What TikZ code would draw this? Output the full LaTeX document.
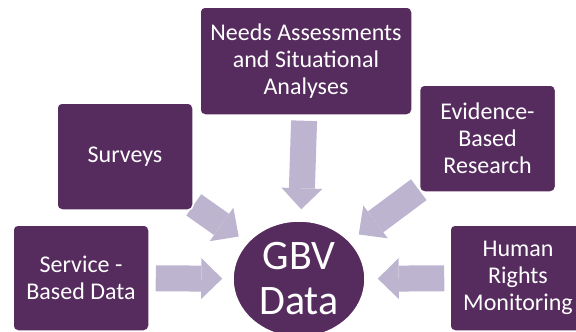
\documentclass[tikz,border=0pt]{standalone}
\usepackage{fontspec}
\setmainfont{Carlito}
\usetikzlibrary{arrows.meta,shapes.geometric,backgrounds}

\definecolor{gbvpurple}{RGB}{86,44,94}
\definecolor{gbvlilac}{RGB}{189,181,207}

\tikzset{
  source/.style={draw=white, line width=1.5pt, fill=gbvpurple, rounded corners=5pt,
    text=white, align=center, inner sep=0pt,
    font=\fontsize{24}{27}\selectfont,
    minimum width=136pt, minimum height=107pt},
  feed/.style={gbvlilac, line width=26pt,
    -{Triangle[width=41pt,length=21pt,line width=0pt]}}
}

\begin{document}
\begin{tikzpicture}[x=1pt,y=-1pt]
        \useasboundingbox (0,0) rectangle (576,332);
        \clip (0,0) rectangle (576,332);
        % the sources round the centre
        \node[source, minimum width=212pt, minimum height=108pt] (needs) at (306,61)
        {Needs Assessments\\and Situational\\Analyses};
        \node[source] (surveys) at (125,156.5) {Surveys};
        \node[source] (evidence) at (487.5,138.5) {Evidence-\\Based\\Research};
        \node[source, minimum height=106pt] (service) at (81,278) {Service -\\Based Data};
        \node[source, minimum height=106pt] (human) at (518,278) {Human\\Rights\\Monitoring};
        % the centre
        \node[ellipse, draw=white, line width=1.5pt, fill=gbvpurple, text=white,
        minimum width=132pt, minimum height=116pt, inner sep=0pt, align=center,
        font=\fontsize{42}{45}\selectfont] (gbv) at (299,279) {GBV\\Data};
        % arrows behind the boxes
        \begin{scope}[on background layer]
        \draw[feed, shorten <=5pt, shorten >=11pt] (needs) -- (gbv);
        \draw[feed, shorten >=10pt] (surveys) -- (gbv);
        \draw[feed, shorten >=11pt] (evidence) -- (gbv);
        \draw[feed, shorten <=6pt, shorten >=10pt] (service) -- (gbv);
        \draw[feed, shorten <=5pt, shorten >=12pt] (human) -- (gbv);
        \end{scope}
    \end{tikzpicture}
\end{document}
